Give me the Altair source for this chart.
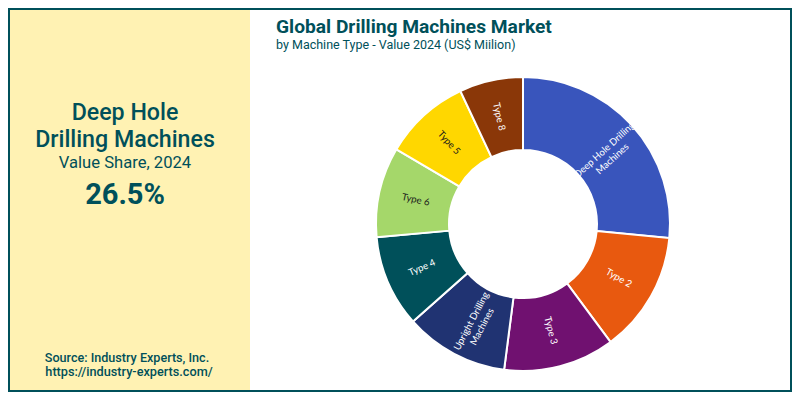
import altair as alt
import pandas as pd

categories = ["Deep Hole Drilling\nMachines", "Type 2", "Type 3", "Upright Drilling\nMachines",
              "Type 4", "Type 6", "Type 5", "Type 8"]
shares = [26.5, 13.3, 12.2, 11.4, 10.1, 9.9, 9.5, 7.0]
colors = ["#3955BC", "#E8590F", "#701170", "#203372", "#00505A", "#A5D76A", "#FFD700", "#8A3708"]
label_colors = ["#FFFFFF", "#FFFFFF", "#FFFFFF", "#FFFFFF", "#FFFFFF", "#1A1A1A", "#1A1A1A", "#FFFFFF"]

TEAL = "#00505A"
PANEL = "#FFF2B3"
OFF = 8
CX, CY = 523 - OFF, 224 - OFF

# label rotation follows the middle of each slice
rot, run = [], 0.0
for s in shares:
    mid = (run + s / 2) * 3.6
    rot.append(mid - 90 if mid < 180 else mid - 270)
    run += s

df = pd.DataFrame({"cat": categories, "share": shares, "idx": range(len(shares)),
                   "rot": rot, "lc": label_colors})

W, H = 784, 384


def box(x0, x1, y0, y1, color):
    return alt.Chart(pd.DataFrame({"a": [0]})).mark_rect(color=color).encode(
        x=alt.value(x0), x2=alt.value(x1), y=alt.value(y0), y2=alt.value(y1))


def label(s, x, y, size, weight="normal", align="left"):
    return alt.Chart(pd.DataFrame({"t": [s]})).mark_text(
        font="Roboto", fontSize=size, fontWeight=weight, color=TEAL, align=align, baseline="alphabetic"
    ).encode(x=alt.value(x - OFF), y=alt.value(y - OFF), text="t:N")


frame = [
    box(0, W, 0, H, "#FFFFFF"),
    box(0, 242, 0, H, PANEL),
    box(0, W, 0, 2, TEAL),
    box(0, 2, 0, H, TEAL),
    box(0, W, H - 2, H, TEAL),
    box(W - 2, W, 0, H, TEAL),
]

theta = alt.Theta("share:Q", stack=True)
order = alt.Order("idx:Q")
arcs = alt.Chart(df).mark_arc(radius=147, radius2=74, stroke="#FFFFFF", strokeWidth=2).encode(
    theta=theta, order=order,
    color=alt.Color("cat:N", sort=categories, scale=alt.Scale(domain=categories, range=colors), legend=None),
    x=alt.value(CX), y=alt.value(CY))
arc_labels = alt.Chart(df).mark_text(radius=110, font="Lato", fontSize=9.6, lineBreak="\n", lineHeight=12,
                                     align="center", baseline="middle").encode(
    theta=theta, order=order, text="cat:N",
    angle=alt.Angle("rot:Q", scale=None),
    color=alt.Color("lc:N", scale=None),
    x=alt.value(CX), y=alt.value(CY))

texts = [
    label("Deep Hole", 125, 120, 23.2, 500, "center"),
    label("Drilling Machines", 125, 147, 23.2, 500, "center"),
    label("Value Share, 2024", 125, 168, 16.6, "normal", "center"),
    label("26.5%", 125, 204, 29, "bold", "center"),
    label("Source: Industry Experts, Inc.", 127, 362, 12.6, 500, "center"),
    label("https://industry-experts.com/", 129, 376, 12.7, 500, "center"),
    label("Global Drilling Machines Market", 276, 33, 19.2, "bold"),
    label("by Machine Type - Value 2024 (US$ Miilion)", 276, 49, 12.5),
]

chart = alt.layer(*frame, arcs, arc_labels, *texts).resolve_scale(color="independent", theta="shared").properties(
    width=W, height=H, padding=0, autosize=alt.AutoSizeParams(type="none")
).configure_view(stroke=None)

chart.save("out.html", embed_options={"renderer": "svg", "actions": False})
